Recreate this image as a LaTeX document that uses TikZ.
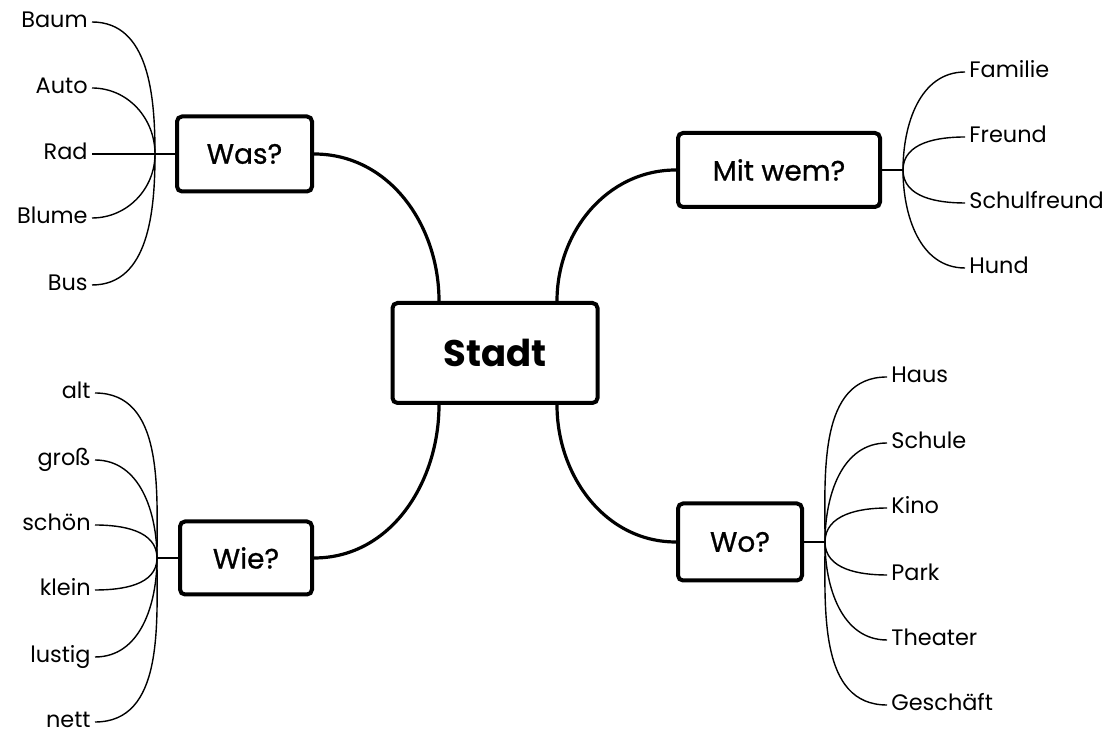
\documentclass[tikz,border=0pt]{standalone}
\usepackage{fontspec}
\setmainfont{Poppins}
\newfontfamily\topicfont[FakeBold=0.8]{Poppins}
\usepackage{tikz}
\usetikzlibrary{calc,positioning,shapes.misc}

\begin{document}
\begin{tikzpicture}[x=0.5pt,y=0.5pt,
    topic/.style={draw, line width=2pt, rounded corners=2.5pt, fill=white,
        font=\topicfont\fontsize{14}{16}\selectfont, inner sep=0pt},
    centre/.style={topic, font=\bfseries\fontsize{18.5}{21}\selectfont,
        minimum width=102.5pt, minimum height=50pt},
    leafl/.style={anchor=mid east, inner sep=2pt, font=\fontsize{11.2}{13}\selectfont},
    leafr/.style={anchor=mid west, inner sep=2pt, font=\fontsize{11.2}{13}\selectfont},
    mainline/.style={line width=1.6pt},
    twig/.style={line width=0.7pt}]

    \useasboundingbox (0,0) rectangle (1119,738);

    % centre and the four questions
    \node[centre] (stadt) at (495,385) {Stadt};
    \node[topic, minimum width=67.5pt, minimum height=37.5pt] (was) at (244.5,584) {Was?};
    \node[topic, minimum width=101pt, minimum height=37pt] (mit) at (779,568) {Mit wem?};
    \node[topic, minimum width=66pt, minimum height=36.5pt] (wie) at (246,180) {Wie?};
    \node[topic, minimum width=62pt, minimum height=38.5pt] (wo) at (740,196) {Wo?};

    \coordinate (sNW) at ($(stadt.north)+(-56,0)$);
    \coordinate (sNE) at ($(stadt.north)+(62,0)$);
    \coordinate (sSW) at ($(stadt.south)+(-56,0)$);
    \coordinate (sSE) at ($(stadt.south)+(62,0)$);

    \draw[mainline] (was.east) to[out=0,in=90] (sNW);
    \draw[mainline] (mit.west) to[out=180,in=90] (sNE);
    \draw[mainline] (wie.east) to[out=0,in=-90] (sSW);
    \draw[mainline] (wo.west) to[out=180,in=-90] (sSE);

    % Was?
    \coordinate (wasj) at (155,584);
    \node[leafl] (baum) at (92,716) {Baum};
    \node[leafl] (auto) at (92,650) {Auto};
    \node[leafl] (rad) at (92,584) {Rad};
    \node[leafl] (blume) at (92,520) {Blume};
    \node[leafl] (bus) at (92,453) {Bus};
    \draw[twig] (wasj) -- (was.west);
    \draw[twig] (wasj) to[out=90,in=0] (baum.mid east);
    \draw[twig] (wasj) to[out=90,in=0] (auto.mid east);
    \draw[twig] (wasj) -- (rad.mid east);
    \draw[twig] (wasj) to[out=-90,in=0] (blume.mid east);
    \draw[twig] (wasj) to[out=-90,in=0] (bus.mid east);

    % Mit wem?
    \coordinate (mitj) at (903,568);
    \node[leafr] (familie) at (965,666) {Familie};
    \node[leafr] (freund) at (965,601) {Freund};
    \node[leafr] (schulfreund) at (965,535) {Schulfreund};
    \node[leafr] (hund) at (965,470) {Hund};
    \draw[twig] (mit.east) -- (mitj);
    \draw[twig] (mitj) to[out=90,in=180] (familie.mid west);
    \draw[twig] (mitj) to[out=90,in=180] (freund.mid west);
    \draw[twig] (mitj) to[out=-90,in=180] (schulfreund.mid west);
    \draw[twig] (mitj) to[out=-90,in=180] (hund.mid west);

    % Wie?
    \coordinate (wiej) at (157,180);
    \node[leafl] (alt) at (95,345) {alt};
    \node[leafl] (gross) at (95,278) {groß};
    \node[leafl] (schoen) at (95,213) {schön};
    \node[leafl] (klein) at (95,148) {klein};
    \node[leafl] (lustig) at (95,81) {lustig};
    \node[leafl] (nett) at (95,16) {nett};
    \draw[twig] (wiej) -- (wie.west);
    \draw[twig] (wiej) to[out=90,in=0] (alt.mid east);
    \draw[twig] (wiej) to[out=90,in=0] (gross.mid east);
    \draw[twig] (wiej) to[out=90,in=0] (schoen.mid east);
    \draw[twig] (wiej) to[out=-90,in=0] (klein.mid east);
    \draw[twig] (wiej) to[out=-90,in=0] (lustig.mid east);
    \draw[twig] (wiej) to[out=-90,in=0] (nett.mid east);

    % Wo?
    \coordinate (woj) at (825,196);
    \node[leafr] (haus) at (887,361) {Haus};
    \node[leafr] (schule) at (887,295) {Schule};
    \node[leafr] (kino) at (887,230) {Kino};
    \node[leafr] (park) at (887,163) {Park};
    \node[leafr] (theater) at (887,98) {Theater};
    \node[leafr] (geschaeft) at (887,33) {Geschäft};
    \draw[twig] (wo.east) -- (woj);
    \draw[twig] (woj) to[out=90,in=180] (haus.mid west);
    \draw[twig] (woj) to[out=90,in=180] (schule.mid west);
    \draw[twig] (woj) to[out=90,in=180] (kino.mid west);
    \draw[twig] (woj) to[out=-90,in=180] (park.mid west);
    \draw[twig] (woj) to[out=-90,in=180] (theater.mid west);
    \draw[twig] (woj) to[out=-90,in=180] (geschaeft.mid west);
\end{tikzpicture}
\end{document}
